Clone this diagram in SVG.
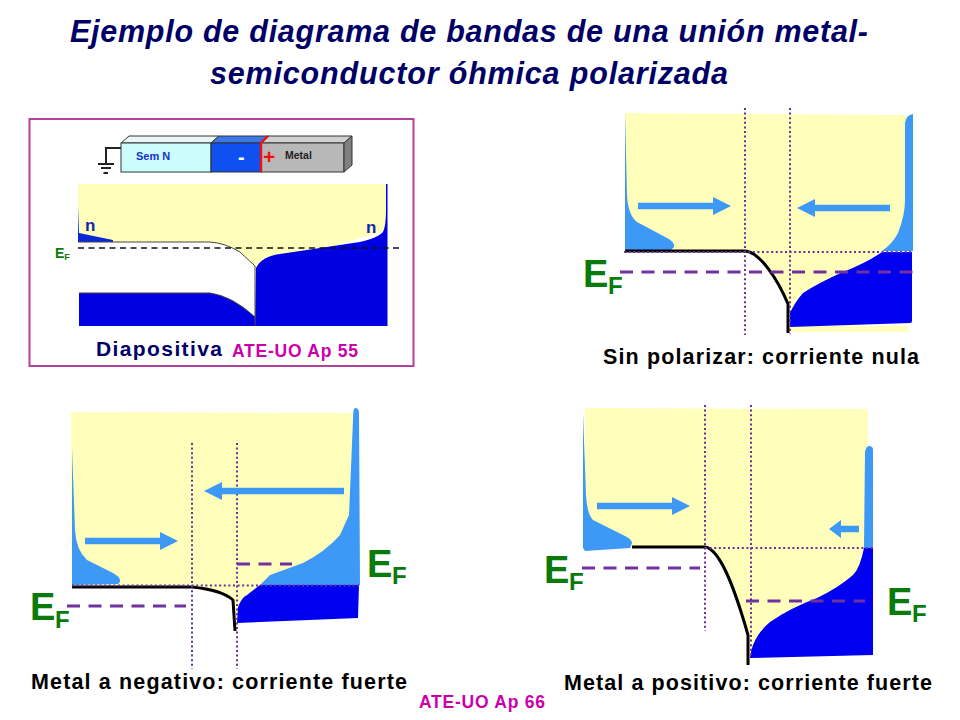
<svg xmlns="http://www.w3.org/2000/svg" width="960" height="720" viewBox="0 0 960 720">
<style>
text{font-family:"Liberation Sans",Arial,sans-serif;font-weight:bold}
.title{font-size:30.5px;font-style:italic;fill:#000066;text-anchor:middle}
.cap{font-size:21.5px;fill:#000}
.ref{font-size:17.5px;fill:#cc00aa}
.ef{font-size:38px;fill:#0a7a0a}
.efs{font-size:24px;fill:#0a7a0a}
.y{fill:#ffffbb}
.lb{fill:#3d99f5}
.db{fill:#0000f0}
.blk{fill:none;stroke:#000;stroke-width:3;stroke-linejoin:round}
.dot{fill:none;stroke:#6a2f9a;stroke-width:2;stroke-dasharray:2 2.6}
.dash{fill:none;stroke:#70309f;stroke-width:3;stroke-dasharray:13 8.5}
</style>
<defs>
<path id="ar" class="lb" d="M0-3.3H75V-9L93 0 75 9V3.3H0Z"/>
</defs>
<rect width="960" height="720" fill="#fff"/>
<g id="title">
<text class="title" x="469" y="42" textLength="798" lengthAdjust="spacing">Ejemplo de diagrama de bandas de una unión metal-</text>
<text class="title" x="469" y="84" textLength="518" lengthAdjust="spacing">semiconductor óhmica polarizada</text>
</g>
<g id="panel-diapositiva">
<rect x="29.500" y="119" width="384" height="247" fill="#fff" stroke="#b8409a" stroke-width="2"/>
<g id="device">
<path d="M121 148H106V163M98 164H114M101 168H111M103.500 173H108" fill="none" stroke="#222" stroke-width="2"/>
<path d="M121 143l8-7H219l-8 7Z" fill="#e8f8f8" stroke="#333"/>
<path d="M211 143l8-7H269l-8 7Z" fill="#3a78e8" stroke="#333"/>
<path d="M261 143l8-7H352l-8 7Z" fill="#d0d0d0" stroke="#333"/>
<rect x="121" y="143" width="90" height="29" fill="#ccfdfd" stroke="#333"/>
<rect x="211" y="143" width="50" height="29" fill="#0f50f0" stroke="#333"/>
<rect x="261" y="143" width="83" height="29" fill="#b8b8b8" stroke="#333"/>
<path d="M344 143l8-7V165l-8 7Z" fill="#808080" stroke="#333"/>
<path d="M261 172V143l7-7" fill="none" stroke="#f01010" stroke-width="2.400"/>
<text x="136" y="160" font-size="11" fill="#1a2fd0">Sem N</text>
<text x="285" y="159" font-size="10.500" fill="#222">Metal</text>
<text x="238" y="164" font-size="20" fill="#fff">-</text>
<text x="263" y="164" font-size="21" fill="#f01010">+</text>
</g>
<path class="y" d="M78 184H387V230L255 270V266L240 252 225 245 210 242H78Z"/>
<path d="M78 207L79 233 113 240 113 242H78Z" fill="#0a28d8"/>
<path d="M386 184H387.500V326H255L256 268Q262 256 280 254 320 248 353 243 375 240 383 232 386 226 386 210Z" fill="#0000e0"/>
<path d="M79 293H210Q232 296 255 317V326H79Z" fill="#0000e0"/>
<path d="M78 242H210Q225 243 240 252L255 266V326M79 293H210Q232 296 255 317" fill="none" stroke="#444" stroke-width="1"/>
<path d="M78 248H400" fill="none" stroke="#111" stroke-width="1.500" stroke-dasharray="6 4.500"/>
<text x="85" y="231" font-size="17" fill="#0a28b0">n</text>
<text x="366" y="233" font-size="17" fill="#0a28b0">n</text>
<text x="55" y="258" font-size="14" fill="#0a7a0a">E<tspan font-size="9" dy="2">F</tspan></text>
<text x="96" y="356" font-size="21" fill="#000066" textLength="126" lengthAdjust="spacing">Diapositiva</text>
<text class="ref" x="232" y="357" textLength="126" lengthAdjust="spacing">ATE-UO Ap 55</text>
</g>
<g id="panel-sin-polarizar">
<path class="y" d="M625 113L907 115V251H880L860 265 830 278 800 296 790 313V326H908V332H790V333H788V304C778 280 760 252 745 251H625Z"/>
<path class="lb" d="M625 113L627 195Q628 215 637 222L667 238Q675 242 674 247L670 251H625Z"/>
<path class="lb" d="M905 123Q906 115 913 114V251H882Q893 243 898 233 905 215 905 200Z"/>
<path class="db" d="M882 252H912L912 321Q912 323 910 323L790 327V313Q795 302 803 293 820 282 843 272 868 262 882 252Z"/>
<path class="blk" d="M625 251H745C760 252 778 280 788 304V333"/>
<path class="dot" d="M745 108V335M790 108V334M624 252H913"/>
<path class="dash" d="M620 272H915"/>
<use href="#ar" x="638" y="206"/>
<use href="#ar" transform="translate(890 208) scale(-1 1)"/>
<text class="ef" x="583" y="287">E</text><text class="efs" x="608" y="294">F</text>
<text class="cap" x="603" y="364" textLength="316" lengthAdjust="spacing">Sin polarizar: corriente nula</text>
</g>
<g id="panel-metal-negativo">
<path class="y" d="M71 412L359 413 360 586H260L247 595Q240 602 237 617L233 600Q222 590 192 586H71Z"/>
<path class="lb" d="M72 448L75 530Q76 550 87 560L113 573Q120 577 120 580 120 584 117 584L72 585Z"/>
<path class="lb" d="M353 420Q353 408 355 408 359 408 359 413L360 585H260L270 575 303 563Q325 552 340 535L349 515Z"/>
<path class="db" d="M260 585H359L358 618 237 623 238 607Q242 597 247 595Z"/>
<path class="blk" d="M72 587H192Q222 590 233 600L235 631"/>
<path class="dot" d="M192 443V669M237 443V669M72 585.500H360"/>
<path class="dash" d="M67 606H186M237 564H292"/>
<path class="lb" d="M344 487.700H222V482L204 491 222 500V494.300H344Z"/>
<use href="#ar" x="85" y="541"/>
<text class="ef" x="30" y="620">E</text><text class="efs" x="55" y="628">F</text>
<text class="ef" x="367" y="577">E</text><text class="efs" x="392" y="584">F</text>
<text class="cap" x="31" y="689" textLength="376" lengthAdjust="spacing">Metal a negativo: corriente fuerte</text>
</g>
<g id="panel-metal-positivo">
<path class="y" d="M585 408L868 409V548L870 655 750 658V665H748V635C738 600 722 549 705 547H585Z"/>
<path class="lb" d="M583 413L586 495Q587 514 593 520L623 535Q632 539 632 543L630 548 585 551 583 548Z"/>
<path class="lb" d="M865 452Q866 446 869 446 873 446 873 450V548H864Z"/>
<path class="db" d="M864 548H873L873 655 750 658Q751 650 753 645 758 632 770 622 790 608 817 598 838 588 853 575 860 568 864 548Z"/>
<path class="blk" d="M632 547H705C722 549 738 600 748 635V665"/>
<path class="dot" d="M705 405V631M751 405V655M705 548H875"/>
<path class="dash" d="M582 568H700M746 601H865"/>
<use href="#ar" x="597" y="506"/>
<path class="lb" d="M859 525.700V532.300H841V538L829 529 841 520V525.700Z"/>
<text class="ef" x="544" y="583">E</text><text class="efs" x="569" y="590">F</text>
<text class="ef" x="887" y="615">E</text><text class="efs" x="912" y="622">F</text>
<text class="cap" x="564" y="690" textLength="368" lengthAdjust="spacing">Metal a positivo: corriente fuerte</text>
</g>
<text class="ref" x="419" y="708" textLength="126" lengthAdjust="spacing">ATE-UO Ap 66</text>
</svg>
